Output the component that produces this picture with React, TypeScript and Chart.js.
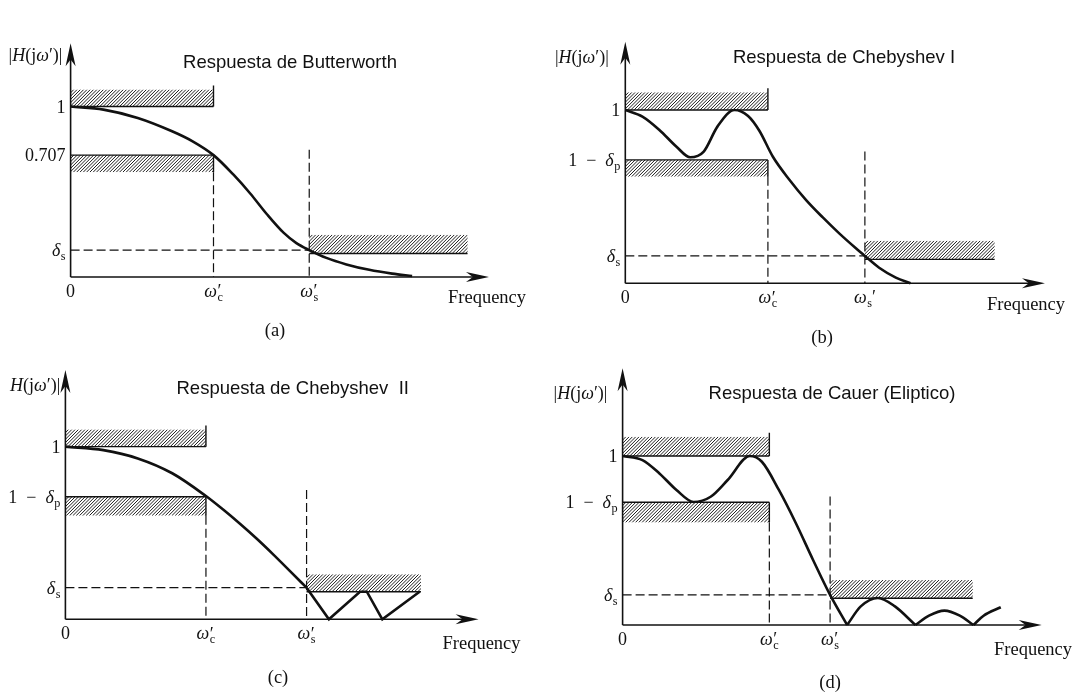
import React, { useEffect, useRef } from 'react';
import { Chart, registerables } from 'chart.js';

Chart.register(...registerables);

const W = 1075;
const H = 695;
const SERIF = '"Liberation Serif", "Times New Roman", "DejaVu Serif", serif';
const SANS = '"Liberation Sans", Arial, "DejaVu Sans", sans-serif';
const INK = '#111111';

// ---------- Panel (a): Butterworth ----------
const butterFreq = [0, 0.23, 0.47, 0.71, 0.854, 1.0, 1.14, 1.257, 1.374, 1.49, 1.58, 1.67, 1.79, 1.93, 2.09, 2.25, 2.39];
const butterMag = [1.0, 0.982, 0.933, 0.855, 0.796, 0.715, 0.6, 0.49, 0.368, 0.26, 0.199, 0.158, 0.112, 0.074, 0.042, 0.02, 0.006];
const butterEdges = [1.0, 1.67]; // ω'c, ω's
const butterLevels = [1.0, 0.715, 0.158]; // 1, 0.707, δs
const butterPassBand = [0.615, 1.1];
const butterStopBand = [0.138, 0.248, 2.778]; // bottom, top, end
const butterRange = [2.928, 1.371];
const butterMarkTop = 0.746;
const butterYTicks = ['1', '0.707', 'δ_s'];
const butterXTicks = ['0', 'ω^′_c', 'ω^′_s'];

// ---------- Panel (b): Chebyshev I ----------
const cheb1Freq = [0, 0.12, 0.239, 0.359, 0.455, 0.55, 0.646, 0.766, 0.861, 0.94, 1.035, 1.152, 1.268, 1.385, 1.5, 1.617, 1.68, 1.78, 1.897, 2.0];
const cheb1Mag = [1.0, 0.962, 0.885, 0.788, 0.727, 0.76, 0.904, 1.0, 0.965, 0.88, 0.73, 0.596, 0.48, 0.38, 0.288, 0.202, 0.158, 0.09, 0.033, 0];
const cheb1Edges = [1.0, 1.68];
const cheb1Levels = [1.0, 0.712, 0.158];
const cheb1PassBand = [0.615, 1.102];
const cheb1StopBand = [0.138, 0.246, 2.59];
const cheb1Range = [2.943, 1.394];
const cheb1MarkTop = 0.76;
const cheb1YTicks = ['1', '1\u2002−\u2002δ_p', 'δ_s'];
const cheb1XTicks = ['0', 'ω^′_c', 'ω_s′'];

// ---------- Panel (c): Chebyshev II ----------
const cheb2PassFreq = [0, 0.27, 0.515, 0.76, 1.0, 1.12, 1.24, 1.36, 1.48, 1.6, 1.716];
const cheb2PassMag = [1.0, 0.98, 0.932, 0.846, 0.714, 0.637, 0.555, 0.468, 0.375, 0.278, 0.183];
const cheb2StopFreq = [1.716, 1.875, 2.096, 2.145, 2.255, 2.52];
const cheb2StopMag = [0.183, 0, 0.16, 0.16, 0, 0.16];
const cheb2Edges = [1.0, 1.716];
const cheb2Levels = [1.0, 0.71, 0.183];
const cheb2PassBand = [0.6, 1.1];
const cheb2StopBand = [0.16, 0.261, 2.53];
const cheb2Range = [2.94, 1.444];
const cheb2MarkTop = 0.749;
const cheb2YTicks = ['1', '1\u2002−\u2002δ_p', 'δ_s'];
const cheb2XTicks = ['0', 'ω^′_c', 'ω^′_s'];

// ---------- Panel (d): Cauer (elliptic) ----------
const cauerFreq = [0, 0.135, 0.251, 0.367, 0.484, 0.6, 0.716, 0.867, 0.949, 1.065, 1.181, 1.298, 1.414, 1.53];
const cauerMag = [1.0, 0.976, 0.897, 0.799, 0.728, 0.759, 0.858, 1.0, 0.966, 0.799, 0.602, 0.385, 0.178, 0];
const cauerLobe1Freq = [1.53, 1.623, 1.74, 1.856, 1.995];
const cauerLobe1Mag = [0, 0.11, 0.16, 0.11, 0];
const cauerLobe2Freq = [1.995, 2.088, 2.193, 2.298, 2.391];
const cauerLobe2Mag = [0, 0.055, 0.085, 0.055, 0];
const cauerLobe3Freq = [2.391, 2.46, 2.577];
const cauerLobe3Mag = [0, 0.055, 0.105];
const cauerEdges = [1.0, 1.414];
const cauerLevels = [1.0, 0.726, 0.178];
const cauerPassBand = [0.606, 1.114];
const cauerStopBand = [0.158, 0.266, 2.386];
const cauerRange = [2.856, 1.519];
const cauerMarkTop = 0.76;
const cauerYTicks = ['1', '1\u2002−\u2002δ_p', 'δ_s'];
const cauerXTicks = ['0', 'ω^′_c', 'ω^′_s'];

type Curve = { x: number[]; y: number[]; smooth: boolean };
type Panel = {
  title: string;
  caption: string;
  yLabel: string;
  curves: Curve[];
  edges: number[];
  levels: number[];
  passBand: number[];
  stopBand: number[];
  range: number[];
  markTop: number;
  yTicks: string[];
  xTicks: string[];
  area: number[]; // left, top, right, bottom in page pixels
  titleAt: number[];
  yLabelAt: number[];
  freqAt: number[];
  captionAt: number[];
};

const PANELS: Panel[] = [
  {
    title: 'Respuesta de Butterworth', caption: '(a)', yLabel: '|H(jω′)|',
    curves: [{ x: butterFreq, y: butterMag, smooth: true }],
    edges: butterEdges, levels: butterLevels, passBand: butterPassBand, stopBand: butterStopBand,
    range: butterRange, markTop: butterMarkTop, yTicks: butterYTicks, xTicks: butterXTicks,
    area: [70.6, 43.3, 489, 277], titleAt: [290, 63], yLabelAt: [8.6, 55], freqAt: [448, 298], captionAt: [275, 331],
  },
  {
    title: 'Respuesta de Chebyshev I', caption: '(b)', yLabel: '|H(jω′)|',
    curves: [{ x: cheb1Freq, y: cheb1Mag, smooth: true }],
    edges: cheb1Edges, levels: cheb1Levels, passBand: cheb1PassBand, stopBand: cheb1StopBand,
    range: cheb1Range, markTop: cheb1MarkTop, yTicks: cheb1YTicks, xTicks: cheb1XTicks,
    area: [625.3, 41.7, 1045, 283.3], titleAt: [844, 58], yLabelAt: [555, 57], freqAt: [987, 305], captionAt: [822, 338],
  },
  {
    title: 'Respuesta de Chebyshev  II', caption: '(c)', yLabel: 'H(jω′)|',
    curves: [
      { x: cheb2PassFreq, y: cheb2PassMag, smooth: true },
      { x: cheb2StopFreq, y: cheb2StopMag, smooth: false },
    ],
    edges: cheb2Edges, levels: cheb2Levels, passBand: cheb2PassBand, stopBand: cheb2StopBand,
    range: cheb2Range, markTop: cheb2MarkTop, yTicks: cheb2YTicks, xTicks: cheb2XTicks,
    area: [65.4, 370, 478.6, 619.3], titleAt: [292.7, 389], yLabelAt: [10, 385], freqAt: [442.5, 644], captionAt: [278, 678],
  },
  {
    title: 'Respuesta de Cauer (Eliptico)', caption: '(d)', yLabel: '|H(jω′)|',
    curves: [
      { x: cauerFreq, y: cauerMag, smooth: true },
      { x: cauerLobe1Freq, y: cauerLobe1Mag, smooth: true },
      { x: cauerLobe2Freq, y: cauerLobe2Mag, smooth: true },
      { x: cauerLobe3Freq, y: cauerLobe3Mag, smooth: true },
    ],
    edges: cauerEdges, levels: cauerLevels, passBand: cauerPassBand, stopBand: cauerStopBand,
    range: cauerRange, markTop: cauerMarkTop, yTicks: cauerYTicks, xTicks: cauerXTicks,
    area: [622.6, 368.3, 1041.7, 625], titleAt: [832, 394], yLabelAt: [553.6, 393], freqAt: [994, 650], captionAt: [830, 683],
  },
];

// ---------- rich text (italic greek, subscripts, primes) ----------
type Seg = { t: string; it: boolean; sub?: string; sup?: string };
const ITALIC = 'δωH';

function parseRich(s: string): Seg[] {
  const segs: Seg[] = [];
  for (let i = 0; i < s.length; i++) {
    const ch = s[i];
    if (ch === '_' || ch === '^') {
      let last = segs[segs.length - 1];
      if (!last) { last = { t: '', it: false }; segs.push(last); }
      if (ch === '_') last.sub = s[++i];
      else last.sup = s[++i];
      continue;
    }
    const it = ITALIC.includes(ch);
    const last = segs[segs.length - 1];
    if (last && !it && !last.it && !last.sub && !last.sup) last.t += ch;
    else segs.push({ t: ch, it });
  }
  return segs;
}

function drawRich(ctx: CanvasRenderingContext2D, text: string, x: number, y: number, align: 'left' | 'right' | 'center', size: number) {
  const segs = parseRich(text);
  const small = size * 0.68;
  const mainFont = (it: boolean) => `${it ? 'italic ' : ''}${size}px ${SERIF}`;
  const subFont = `${small}px ${SERIF}`;
  const supFont = `${size}px ${SERIF}`;
  const widths: number[][] = [];
  let total = 0;
  for (const s of segs) {
    ctx.font = mainFont(s.it);
    const wm = s.t ? ctx.measureText(s.t).width : 0;
    ctx.font = subFont;
    const wsub = s.sub ? ctx.measureText(s.sub).width : 0;
    ctx.font = supFont;
    const wsup = s.sup ? ctx.measureText(s.sup).width : 0;
    const wx = Math.max(wsub, wsup) + (s.sub || s.sup ? 0.5 : 0);
    widths.push([wm, wx]);
    total += wm + wx;
  }
  let cx = align === 'left' ? x : align === 'right' ? x - total : x - total / 2;
  ctx.textAlign = 'left';
  ctx.textBaseline = 'alphabetic';
  ctx.fillStyle = INK;
  segs.forEach((s, i) => {
    ctx.font = mainFont(s.it);
    if (s.t) ctx.fillText(s.t, cx, y);
    cx += widths[i][0];
    if (s.sup) {
      ctx.font = supFont;
      ctx.fillText(s.sup, cx + 0.5, y + size * 0.02);
    }
    if (s.sub) {
      ctx.font = subFont;
      ctx.fillText(s.sub, cx + 0.5, y + size * 0.22);
    }
    cx += widths[i][1];
  });
}

// ---------- drawing helpers ----------
function seg(ctx: CanvasRenderingContext2D, x0: number, y0: number, x1: number, y1: number) {
  ctx.beginPath();
  ctx.moveTo(x0, y0);
  ctx.lineTo(x1, y1);
  ctx.stroke();
}

function hatch(ctx: CanvasRenderingContext2D, x0: number, y0: number, x1: number, y1: number) {
  ctx.save();
  ctx.beginPath();
  ctx.rect(x0, y0, x1 - x0, y1 - y0);
  ctx.clip();
  ctx.strokeStyle = '#1e1e1e';
  ctx.lineWidth = 1.0;
  ctx.setLineDash([]);
  const h = y1 - y0;
  const step = 3.3;
  ctx.beginPath();
  for (let s = x0 - h; s < x1 + step; s += step) {
    ctx.moveTo(s, y1);
    ctx.lineTo(s + h, y0);
  }
  ctx.stroke();
  ctx.restore();
}

function arrowHead(ctx: CanvasRenderingContext2D, tx: number, ty: number, dir: 'up' | 'right') {
  const L = 23;
  const w = 5;
  ctx.beginPath();
  if (dir === 'up') {
    ctx.moveTo(tx, ty);
    ctx.lineTo(tx + w, ty + L);
    ctx.lineTo(tx, ty + L * 0.7);
    ctx.lineTo(tx - w, ty + L);
  } else {
    ctx.moveTo(tx, ty);
    ctx.lineTo(tx - L, ty - w);
    ctx.lineTo(tx - L * 0.7, ty);
    ctx.lineTo(tx - L, ty + w);
  }
  ctx.closePath();
  ctx.fill();
}

function makePlugin(p: Panel) {
  return {
    id: 'filterDiagram',
    beforeDatasetsDraw(chart: any) {
      const ctx: CanvasRenderingContext2D = chart.ctx;
      const X = (v: number) => chart.scales.x.getPixelForValue(v);
      const Y = (v: number) => chart.scales.y.getPixelForValue(v);
      const [wc, ws] = p.edges;
      const [one, passLow, ds] = p.levels;
      const [bandBottom, bandTop] = p.passBand;
      const [sBot, sTop, sEnd] = p.stopBand;
      const [xMax, yMax] = p.range;
      ctx.save();
      // hatched tolerance bands
      hatch(ctx, X(0), Y(bandTop), X(wc), Y(one));
      hatch(ctx, X(0), Y(passLow), X(wc), Y(bandBottom));
      hatch(ctx, X(ws), Y(sTop), X(sEnd), Y(sBot));
      // solid band edges
      ctx.strokeStyle = INK;
      ctx.fillStyle = INK;
      ctx.lineWidth = 1.4;
      ctx.setLineDash([]);
      seg(ctx, X(0), Y(one), X(wc), Y(one));
      seg(ctx, X(wc), Y(bandTop) - 4, X(wc), Y(one));
      seg(ctx, X(0), Y(passLow), X(wc), Y(passLow));
      seg(ctx, X(wc), Y(passLow), X(wc), Y(bandBottom));
      seg(ctx, X(ws), Y(sBot), X(sEnd), Y(sBot));
      // dashed guides
      ctx.lineWidth = 1.2;
      ctx.setLineDash([9, 4]);
      seg(ctx, X(wc), Y(bandBottom), X(wc), Y(0));
      seg(ctx, X(ws), Y(p.markTop), X(ws), Y(0));
      seg(ctx, X(0), Y(ds), X(ws), Y(ds));
      ctx.setLineDash([]);
      // axes with arrow heads
      ctx.lineWidth = 1.6;
      seg(ctx, X(0), Y(0), X(xMax) - 8, Y(0));
      seg(ctx, X(0), Y(0), X(0), Y(yMax) + 8);
      arrowHead(ctx, X(xMax), Y(0), 'right');
      arrowHead(ctx, X(0), Y(yMax), 'up');
      ctx.restore();
    },
    afterDraw(chart: any) {
      const ctx: CanvasRenderingContext2D = chart.ctx;
      const X = (v: number) => chart.scales.x.getPixelForValue(v);
      const Y = (v: number) => chart.scales.y.getPixelForValue(v);
      const [wc, ws] = p.edges;
      ctx.save();
      // title
      ctx.fillStyle = INK;
      ctx.font = `18.5px ${SANS}`;
      ctx.textAlign = 'center';
      ctx.textBaseline = 'middle';
      ctx.fillText(p.title, p.titleAt[0], p.titleAt[1]);
      // y axis label
      drawRich(ctx, p.yLabel, p.yLabelAt[0], p.yLabelAt[1] + 6, 'left', 18);
      // y tick labels
      p.levels.forEach((lv, i) => {
        drawRich(ctx, p.yTicks[i], X(0) - 5, Y(lv) + 6, 'right', 18);
      });
      // x tick labels
      const xs = [0, wc, ws];
      xs.forEach((v, i) => {
        drawRich(ctx, p.xTicks[i], X(v), Y(0) + 20, 'center', 18);
      });
      // frequency label and caption
      ctx.fillStyle = INK;
      ctx.font = `18.5px ${SERIF}`;
      ctx.textAlign = 'left';
      ctx.textBaseline = 'middle';
      ctx.fillText('Frequency', p.freqAt[0], p.freqAt[1]);
      ctx.textAlign = 'center';
      ctx.fillText(p.caption, p.captionAt[0], p.captionAt[1]);
      ctx.restore();
    },
  };
}

function buildConfig(p: Panel): any {
  const [l, t, r, b] = p.area;
  return {
    type: 'line',
    data: {
      datasets: p.curves.map((c) => ({
        data: c.x.map((x, k) => ({ x, y: c.y[k] })),
        borderColor: INK,
        borderWidth: 2.6,
        pointRadius: 0,
        fill: false,
        tension: c.smooth ? 0.4 : 0,
        cubicInterpolationMode: c.smooth ? 'monotone' : 'default',
        clip: false,
      })),
    },
    options: {
      responsive: false,
      animation: false,
      devicePixelRatio: 1,
      events: [],
      layout: { padding: { left: l, top: t, right: W - r, bottom: H - b } },
      scales: {
        x: { type: 'linear', min: 0, max: p.range[0], display: false },
        y: { type: 'linear', min: 0, max: p.range[1], display: false },
      },
      plugins: { legend: { display: false }, tooltip: { enabled: false }, title: { display: false } },
    },
    plugins: [makePlugin(p)],
  };
}

export default function App() {
  const refs = useRef<(HTMLCanvasElement | null)[]>([]);
  useEffect(() => {
    const charts = PANELS.map((p, i) => new Chart(refs.current[i] as HTMLCanvasElement, buildConfig(p)));
    return () => charts.forEach((c) => c.destroy());
  }, []);
  return (
    <div style={{ position: 'fixed', left: 0, top: 0, width: W, height: H, background: '#ffffff' }}>
      {PANELS.map((p, i) => (
        <canvas
          key={p.caption}
          ref={(el) => { refs.current[i] = el; }}
          width={W}
          height={H}
          style={{ position: 'absolute', left: 0, top: 0, width: W, height: H }}
        />
      ))}
    </div>
  );
}
